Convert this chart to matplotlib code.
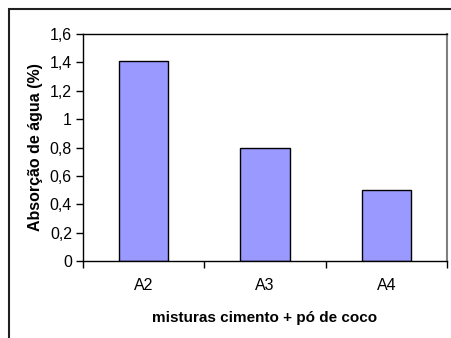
import matplotlib
matplotlib.use("Agg")
import matplotlib.pyplot as plt
from matplotlib.patches import Rectangle
import numpy as np

plt.rcParams['font.family'] = ['Liberation Sans', 'DejaVu Sans']

# dados
misturas = ['A2', 'A3', 'A4']
absorcao = [1.41, 0.80, 0.50]
yticks = [0, 0.2, 0.4, 0.6, 0.8, 1.0, 1.2, 1.4, 1.6]
ytick_labels = ['0', '0,2', '0,4', '0,6', '0,8', '1', '1,2', '1,4', '1,6']

fig = plt.figure(figsize=(4.52, 3.38), dpi=100)
W, H = 452, 338

# moldura externa do grafico (cortada a direita e embaixo)
fig.patches.append(Rectangle((9 / W, -0.1), 1.2, (H - 9) / H + 0.1,
                             transform=fig.transFigure, fill=False,
                             edgecolor='#202020', lw=1.5))

ax = fig.add_axes([83 / W, 1 - 261 / H, (447 - 83) / W, (261 - 34) / H])
x = np.arange(len(misturas))
ax.bar(x, absorcao, width=0.405, color='#9999FF', edgecolor='black', lw=1.0)

ax.set_xlim(-0.5, len(misturas) - 0.5)
ax.set_ylim(0, 1.6)
ax.set_yticks(yticks)
ax.set_yticklabels(ytick_labels, fontsize=11.5)
ax.set_xticks(x)
ax.set_xticklabels(misturas, fontsize=11.5)
ax.set_xticks(np.arange(-0.5, len(misturas), 1.0), minor=True)
ax.tick_params(axis='x', which='major', length=0, pad=12.5)
ax.tick_params(axis='x', which='minor', length=5, direction='out', width=1)
ax.tick_params(axis='y', length=5, direction='out', width=1, pad=3)

for s in ['left', 'bottom', 'top']:
    ax.spines[s].set_color('black')
    ax.spines[s].set_linewidth(1.0)
ax.spines['right'].set_color('#808080')
ax.spines['right'].set_linewidth(1.5)

ax.set_ylabel('Absorção de água (%)', fontsize=11.5, fontweight='bold', labelpad=5)
ax.set_xlabel('misturas cimento + pó de coco', fontsize=11, fontweight='bold', labelpad=13)

fig.savefig('out.png', dpi=100)
